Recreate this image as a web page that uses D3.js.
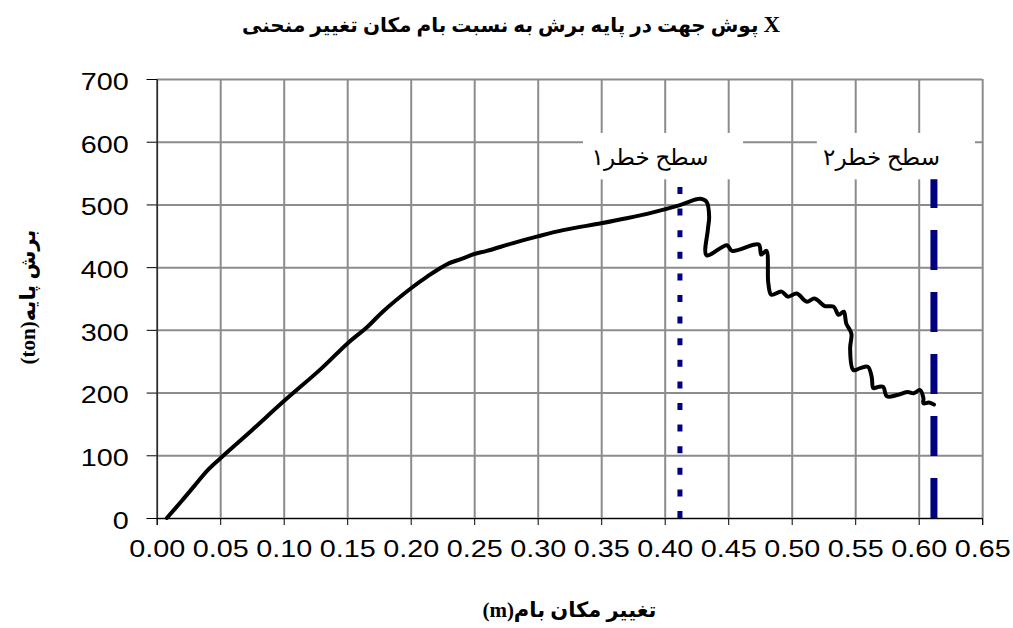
<!DOCTYPE html>
<html>
<head>
<meta charset="utf-8">
<script src="https://cdn.jsdelivr.net/npm/d3@7"></script>
<style>
    body { margin: 0; background: #fff; }
    svg { display: block; }
    .tick text { font-family: 'Liberation Sans', Arial, sans-serif; font-size: 23px; fill: #000; }
    .grid line { stroke: #8c8c8c; stroke-width: 2; }
    .grid .domain { display: none; }
    .axis .domain, .axis line { stroke: #000; stroke-width: 1; }
    .title { font-family: 'Liberation Serif', 'DejaVu Sans', serif; font-weight: bold; fill: #000; }
    .level { font-family: 'Times New Roman', 'DejaVu Serif', 'DejaVu Sans', serif; font-size: 23px; fill: #000; }
</style>
</head>
<body>
<div id="vis"></div>
<script>
// Pushover curve: roof displacement (m) against base shear (ton), X direction
let displacement = [0.008, 0.020, 0.030, 0.040, 0.050, 0.075, 0.100, 0.130, 0.150, 0.166,
    0.178, 0.200, 0.213, 0.230, 0.240, 0.250, 0.260, 0.280, 0.300, 0.320,
    0.350, 0.370, 0.390, 0.412, 0.428, 0.433, 0.435, 0.434, 0.433, 0.449,
    0.453, 0.474, 0.476, 0.480, 0.4816, 0.484, 0.492, 0.497, 0.504, 0.5118,
    0.518, 0.526, 0.533, 0.537, 0.541, 0.543, 0.547, 0.546, 0.5485, 0.554,
    0.560, 0.563, 0.5643, 0.568, 0.572, 0.575, 0.583, 0.591, 0.596, 0.601,
    0.6037, 0.6037, 0.608, 0.612];
let baseShear = [0, 28, 52, 76, 95, 140, 186, 239, 278, 305,
    329, 366, 385, 406, 413, 421, 426, 438, 449, 459,
    470, 478, 487, 499, 509, 504, 480, 460, 419, 435,
    426, 436, 420, 426, 374, 356, 361, 353, 358, 345,
    350, 338, 337, 324, 329, 310, 294, 270, 236, 239,
    241, 225, 207, 209, 209, 194, 196, 201, 199, 204,
    191, 183, 184, 181];

// Hazard levels (vertical marker lines)
let levelNames = ['سطح خطر۱', 'سطح خطر۲'];
let levelDisp = [0.412, 0.612];
let levelTop = 540;
let levelDash = ['7,14.6', '40,22'];
let levelWidth = [5, 7];

// label boxes for the hazard levels, in data units
let boxLeft = [0.3357, 0.5198];
let boxRight = [0.4617, 0.6443];
let boxTop = 614;
let labelX = [0.3884, 0.5707];
let labelY = 563;

let xTicks = d3.range(0, 14).map(i => i * 0.05);
let yTicks = [0, 100, 200, 300, 400, 500, 600, 700];

let titleText = 'پوش جهت در پایه برش به نسبت بام مکان تغییر منحنی ';
let xTitleText = 'تغییر مکان بام(m)';
let yTitleText = 'برش پایه(ton)';

// Margin: space around the plot area
let margin = {
    left: 156.7,
    right: 30.8,
    top: 79,
    bottom: 110,
};
let width = 1013 - margin.left - margin.right;
let height = 628 - margin.top - margin.bottom;

let svg = d3.select('#vis')
    .append('svg')
    .attr('width', 1013)
    .attr('height', 628);

let g = svg.append('g')
    .attr('transform', `translate(${margin.left}, ${margin.top})`);

let xScale = d3.scaleLinear()
    .domain([0, 0.65])
    .range([0, width]);

let yScale = d3.scaleLinear()
    .domain([0, 700])
    .range([height, 0]);

// gridlines
g.append('g')
    .attr('class', 'grid')
    .call(d3.axisTop(xScale).tickValues(xTicks).tickSize(-height).tickFormat(''));

g.append('g')
    .attr('class', 'grid')
    .call(d3.axisLeft(yScale).tickValues(yTicks).tickSize(-width).tickFormat(''));

// white boxes behind the level labels
levelNames.forEach((name, i) => {
    g.append('rect')
        .attr('x', xScale(boxLeft[i]))
        .attr('y', yScale(boxTop))
        .attr('width', xScale(boxRight[i]) - xScale(boxLeft[i]))
        .attr('height', yScale(levelTop) - yScale(boxTop))
        .attr('fill', '#fff');
});

// stretch tick labels a little, like the original export
let stretch = sel => sel.selectAll('.tick text').each(function() {
    let w = this.getComputedTextLength();
    d3.select(this).attr('textLength', w * 1.25).attr('lengthAdjust', 'spacingAndGlyphs');
});

let xAxis = g.append('g')
    .attr('class', 'axis')
    .attr('transform', `translate(0, ${height})`)
    .call(d3.axisBottom(xScale).tickValues(xTicks).tickSize(7).tickPadding(16).tickFormat(d3.format('.2f')));
xAxis.call(stretch);

let yAxis = g.append('g')
    .attr('class', 'axis')
    .call(d3.axisLeft(yScale).tickValues(yTicks).tickSize(10).tickPadding(18));
yAxis.selectAll('.tick text').attr('dy', '0.45em');
yAxis.call(stretch);

// the curve
let line = d3.line()
    .x(d => xScale(d[0]))
    .y(d => yScale(d[1]));

let curve = d3.line()
    .x(d => xScale(d[0]))
    .y(d => yScale(d[1]))
    .curve(d3.curveCatmullRom.alpha(0.5));

g.append('path')
    .datum(displacement.map((d, i) => [d, baseShear[i]]))
    .attr('d', curve)
    .attr('fill', 'none')
    .attr('stroke', '#000')
    .attr('stroke-width', 4)
    .attr('stroke-linejoin', 'round')
    .attr('stroke-linecap', 'round');

// hazard level lines, drawn from the axis upwards
levelDisp.forEach((d, i) => {
    g.append('path')
        .attr('d', line([[d, 0], [d, levelTop]]))
        .attr('fill', 'none')
        .attr('stroke', '#000080')
        .attr('stroke-width', levelWidth[i])
        .attr('stroke-dasharray', levelDash[i]);

    g.append('text')
        .attr('class', 'level')
        .attr('x', xScale(labelX[i]))
        .attr('y', yScale(labelY))
        .attr('direction', 'rtl')
        .attr('text-anchor', 'middle')
        .text(levelNames[i]);
});

// titles
let title = svg.append('text')
    .attr('class', 'title')
    .attr('x', 511)
    .attr('y', 32)
    .attr('text-anchor', 'middle')
    .style('font-size', '20px');
title.append('tspan').text(titleText);
title.append('tspan').style('font-size', '23px').text('X');

svg.append('text')
    .attr('class', 'title')
    .attr('x', margin.left + xScale(0.325))
    .attr('y', 617)
    .attr('text-anchor', 'middle')
    .attr('direction', 'rtl')
    .style('font-size', '21px')
    .text(xTitleText);

svg.append('text')
    .attr('class', 'title')
    .attr('transform', `translate(35, 297) rotate(-90)`)
    .attr('text-anchor', 'middle')
    .attr('direction', 'rtl')
    .style('font-size', '21px')
    .text(yTitleText);
</script>
</body>
</html>
